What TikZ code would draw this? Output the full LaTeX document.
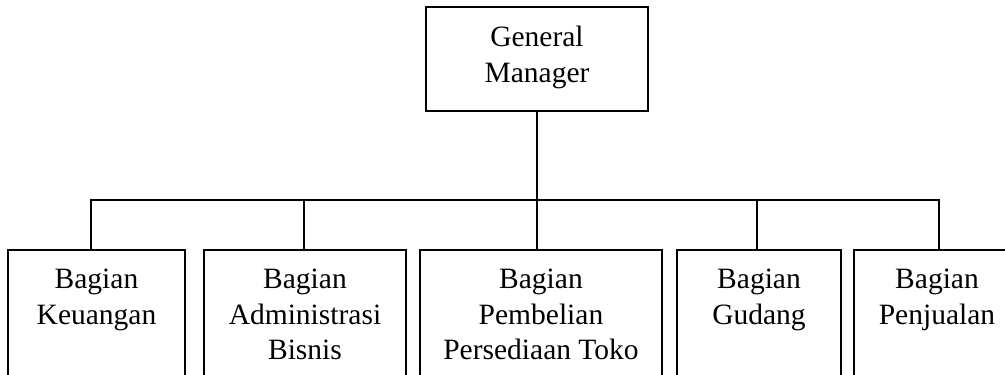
\documentclass[tikz,border=0pt]{standalone}
\usepackage{fontspec}
\setmainfont{Liberation Serif}
\begin{document}
\begin{tikzpicture}[x=1pt,y=-1pt,
  box/.style={draw, line width=1.6pt, anchor=north west, inner sep=0pt, outer sep=0pt},
  conn/.style={draw, line width=1.6pt},
  lbl/.style={anchor=north, align=center, inner sep=0pt, font=\fontsize{29.5}{35.5}\selectfont}]
\useasboundingbox (0,0) rectangle (1005,375);
\clip (0,0) rectangle (1005,375);
\node[box, minimum width=222pt, minimum height=104pt] (gm) at (426,7) {};
\node[box, minimum width=177pt, minimum height=200pt] (b1) at (8,250) {};
\node[box, minimum width=202pt, minimum height=200pt] (b2) at (204,250) {};
\node[box, minimum width=242pt, minimum height=200pt] (b3) at (420,250) {};
\node[box, minimum width=164pt, minimum height=200pt] (b4) at (677,250) {};
\node[box, minimum width=170pt, minimum height=200pt] (b5) at (854,250) {};
\coordinate (bus) at (537,200);
\node[lbl] (tgm) at (537,26) {General\\Manager};
\node[lbl] (t1) at (96.5,269) {Bagian\\Keuangan};
\node[lbl] (t2) at (305,269) {Bagian\\Administrasi\\Bisnis};
\node[lbl] (t3) at (541,269) {Bagian\\Pembelian\\Persediaan Toko};
\node[lbl] (t4) at (759,269) {Bagian\\Gudang};
\node[lbl] (t5) at (937,269) {Bagian\\Penjualan};
\draw[conn] (gm.south) -- (gm.south |- b3.north);
\draw[conn] ([xshift=-5.5pt]b1.north) |- (bus) -| (b5.north);
\draw[conn] ([xshift=-1pt]b2.north) -- ([xshift=-1pt]b2.north |- bus);
\draw[conn] ([xshift=-2pt]b4.north) -- ([xshift=-2pt]b4.north |- bus);
\end{tikzpicture}
\end{document}
